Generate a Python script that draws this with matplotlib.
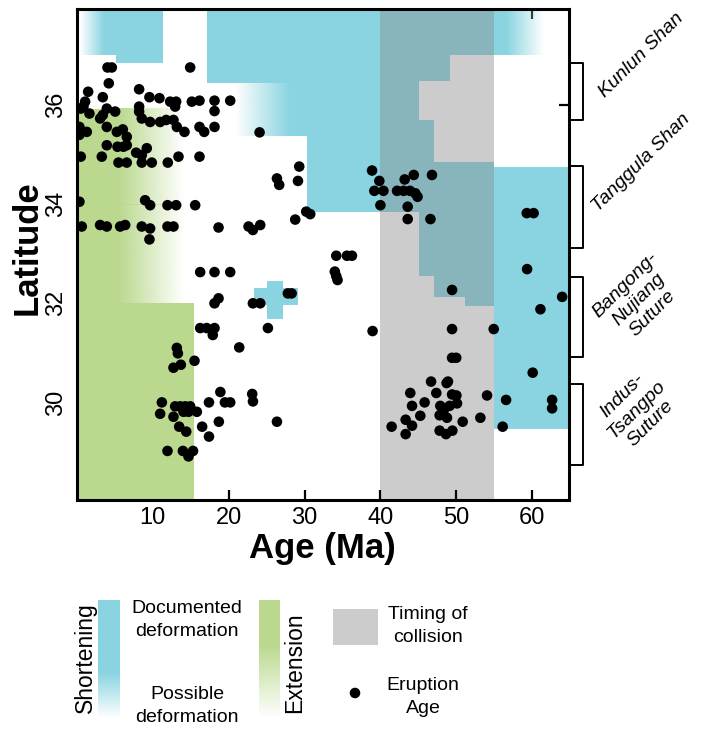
import numpy as np
import matplotlib
matplotlib.use("Agg")
import matplotlib.pyplot as plt
from matplotlib.patches import Rectangle
from matplotlib.colors import to_rgb
import matplotlib.transforms as mtransforms

plt.rcParams['font.family'] = ['Liberation Sans', 'DejaVu Sans']

# ---------------- data ----------------
eruption_age = [
    4.02, 4.59, 14.92, 4.19, 1.47, 8.19, 3.40, 9.55, 10.87, 1.07, 0.85,
    12.28, 13.07, 12.94, 15.14, 16.15, 18.13, 20.20, 0.5, 1.64, 3.93, 5.03,
    8.19, 8.19, 18.13, 3.40, 3.05, 8.54, 9.64, 10.96, 11.76, 12.72, 13.16, 14.17,
    0.32, 1.29, 0.32, 3.93, 5.25, 6.04, 6.56, 16.15, 16.77, 18.13, 24.07,
    3.93, 5.34, 6.13, 6.56, 7.80, 8.54, 9.20, 0.5, 3.27, 5.47, 6.56, 8.54, 9.86,
    11.97, 13.38, 16.15, 29.30, 26.36, 26.66, 29.13, 0.32, 8.98, 9.64,
    11.93, 13.07, 15.58, 28.77, 30.22, 30.75,
    0.63, 3.05, 3.93, 5.69, 6.35, 8.54, 9.64, 11.93, 12.72, 9.55, 18.66,
    22.62, 23.19, 24.16,
    38.9, 39.86, 39.2, 40.4, 40.0, 43.2, 44.4, 42.2, 43.06, 43.9, 44.6, 44.9,
    43.6, 43.6, 46.8, 46.6, 59.3, 60.2,
    34.18, 35.59, 36.25, 33.99, 34.18, 34.35, 49.45, 59.34, 63.96, 61.1,
    38.97, 49.45, 54.94, 49.45, 50.0, 60.08, 46.68, 48.73, 48.91,
    43.94, 47.37, 49.45, 50.02, 54.06, 56.57, 62.64, 62.64,
    45.83, 44.17, 47.9, 49.13, 50.1, 45.26, 47.81, 48.78, 48.34,
    43.33, 44.17, 41.48, 43.33, 50.85, 53.18, 47.81, 48.65, 49.49, 56.12,
    16.24, 18.13, 20.2, 18.13, 18.66, 23.19, 24.16, 27.8, 28.3,
    16.24, 17.1, 18.13, 17.9, 25.17, 21.39, 13.16, 13.3, 12.72, 13.69, 15.49,
    11.19, 10.96, 12.72, 12.94, 13.6, 14.26, 14.92, 14.04, 14.7, 15.8,
    13.47, 14.4, 16.5, 17.4, 17.4, 18.9, 19.5, 20.2, 18.7, 23.1, 23.2, 26.36,
    11.93, 13.96, 14.7, 15.3,
]
eruption_lat = [
    36.76, 36.76, 36.76, 36.44, 36.27, 36.32, 36.16, 36.16, 36.14, 36.07, 35.97,
    36.07, 36.07, 35.97, 36.07, 36.09, 36.09, 36.09, 35.93, 35.83, 35.93, 35.87,
    35.97, 35.87, 35.88, 35.80, 35.73, 35.73, 35.66, 35.66, 35.70, 35.70, 35.56, 35.46,
    35.56, 35.46, 35.40, 35.56, 35.46, 35.51, 35.36, 35.56, 35.46, 35.56, 35.45,
    35.19, 35.16, 35.16, 35.19, 35.04, 34.99, 35.13, 34.96, 34.96, 34.84, 34.84, 34.84, 34.84,
    34.84, 34.96, 34.96, 34.76, 34.52, 34.39, 34.47, 34.05, 34.08, 33.98,
    33.98, 33.98, 33.98, 33.69, 33.85, 33.80,
    33.55, 33.58, 33.55, 33.55, 33.58, 33.55, 33.51, 33.55, 33.55, 33.29, 33.53,
    33.55, 33.48, 33.58,
    34.68, 34.47, 34.27, 34.27, 33.98, 34.50, 34.59, 34.27, 34.27, 34.27, 34.22, 34.15,
    33.95, 33.70, 34.59, 33.70, 33.82, 33.82,
    32.96, 32.96, 32.96, 32.64, 32.55, 32.47, 32.27, 32.69, 32.13, 31.88,
    31.44, 31.48, 31.48, 30.90, 30.90, 30.60, 30.42, 30.39, 30.42,
    30.19, 30.19, 30.16, 30.14, 30.14, 30.05, 30.05, 29.88,
    30.00, 29.93, 29.93, 29.93, 29.98, 29.73, 29.74, 29.69, 29.84,
    29.65, 29.53, 29.51, 29.36, 29.61, 29.69, 29.43, 29.36, 29.43, 29.51,
    32.63, 32.63, 32.63, 32.00, 32.10, 32.00, 32.00, 32.20, 32.20,
    31.50, 31.50, 31.50, 31.36, 31.50, 31.11, 31.10, 30.99, 30.70, 30.76, 30.84,
    30.00, 29.77, 29.71, 29.92, 29.92, 29.92, 29.92, 29.81, 29.81, 29.81,
    29.51, 29.41, 29.51, 29.31, 30.00, 30.21, 30.00, 30.00, 29.61, 30.17, 30.02, 29.61,
    29.02, 29.02, 28.91, 29.02,
]

collision_window = (40.0, 55.0)

# documented shortening: (age_start, age_end, lat_min, lat_max)
shortening_rects = [
    (3.5, 5.1, 37.01, 38.2), (5.1, 11.3, 36.86, 38.2),
    (17.1, 40.0, 36.44, 38.2), (28.0, 30.3, 35.37, 36.44), (30.3, 40.0, 33.84, 36.44),
    (40.0, 55.0, 37.01, 38.2), (40.0, 49.2, 36.48, 37.01), (40.0, 45.1, 35.70, 36.48),
    (40.0, 47.1, 34.85, 35.70), (40.0, 55.0, 33.84, 34.85), (45.1, 55.0, 32.55, 33.84),
    (47.1, 55.0, 32.13, 32.55), (51.1, 55.0, 31.95, 32.13),
    (55.0, 66.0, 29.46, 34.75), (55.0, 56.5, 37.01, 38.2),
    (23.3, 29.1, 31.97, 32.31), (25.1, 27.1, 31.68, 32.45),
]
# possible shortening (fading): (age_a, age_b, lat_min, lat_max, alpha_a, alpha_b)
shortening_fades = [
    (0.4, 3.5, 37.01, 38.2, 0.0, 1.0),
    (20.8, 28.0, 35.37, 36.44, 0.0, 1.0),
    (56.5, 61.5, 37.01, 38.2, 1.0, 0.0),
]
extension_rects = [
    (0.0, 15.4, 27.5, 32.0), (0.0, 5.5, 32.0, 33.98), (0.0, 5.5, 33.98, 35.92),
]
extension_fades = [
    (5.5, 14.0, 32.0, 33.98, 1.0, 0.0), (5.5, 14.0, 33.98, 35.92, 1.0, 0.0),
]

region_names = ["Kunlun Shan", "Tanggula Shan", "Bangong-\nNujiang\nSuture", "Indus-\nTsangpo\nSuture"]
region_lat_min = [35.70, 33.12, 30.92, 28.74]
region_lat_max = [36.85, 34.77, 32.53, 30.37]
region_label_lat = [37.01, 34.83, 32.08, 29.86]
region_label_x = [1.1475, 1.1475, 1.143, 1.138]

x_ticks = [10, 20, 30, 40, 50, 60]
y_ticks = [30, 32, 34, 36]

# ---------------- style ----------------
C_SHORT = '#89D4E0'
C_OVER = '#88B4BC'
C_GREY = '#CCCCCC'
C_EXT = '#BAD98E'

W, H = 702, 732
fig = plt.figure(figsize=(W / 100, H / 100), dpi=100)
ax = fig.add_axes([77 / W, 1 - 500 / H, 491.5 / W, 491 / H], zorder=2)


def fade(axis, x0, x1, y0, y1, a0, a1, color, z):
    r, g, b = to_rgb(color)
    n = 256
    img = np.zeros((1, n, 4))
    img[0, :, 0], img[0, :, 1], img[0, :, 2] = r, g, b
    img[0, :, 3] = np.linspace(a0, a1, n)
    axis.imshow(img, extent=(x0, x1, y0, y1), origin='lower', aspect='auto',
                interpolation='bilinear', zorder=z)


# collision window
c0, c1 = collision_window
ax.add_patch(Rectangle((c0, 27), c1 - c0, 12, fc=C_GREY, ec='none', lw=0, zorder=1))

# shortening, split at the collision window
for a0, a1, l0, l1 in shortening_rects:
    pieces = []
    if a0 < c0:
        pieces.append((a0, min(a1, c0), C_SHORT))
    if a1 > c0 and a0 < c1:
        pieces.append((max(a0, c0), min(a1, c1), C_OVER))
    if a1 > c1:
        pieces.append((max(a0, c1), a1, C_SHORT))
    for p0, p1, col in pieces:
        ax.add_patch(Rectangle((p0, l0), p1 - p0, l1 - l0, fc=col, ec='none', lw=0, zorder=2))
for a0, a1, l0, l1, al0, al1 in shortening_fades:
    fade(ax, a0, a1, l0, l1, al0, al1, C_SHORT, 2)

for a0, a1, l0, l1 in extension_rects:
    ax.add_patch(Rectangle((a0, l0), a1 - a0, l1 - l0, fc=C_EXT, ec='none', lw=0, zorder=2))
for a0, a1, l0, l1, al0, al1 in extension_fades:
    fade(ax, a0, a1, l0, l1, al0, al1, C_EXT, 2)

ax.scatter(eruption_age, eruption_lat, s=58, c='black', edgecolors='none', zorder=4)

ax.set_xlim(0, 64.8)
ax.set_ylim(28.03, 37.94)
ax.set_xticks(x_ticks)
ax.set_yticks(y_ticks)
ax.tick_params(direction='in', length=7.5, width=1.6, top=True, right=True,
               labelsize=17, pad=5)
ax.tick_params(axis='y', labelrotation=90, pad=7)
for lb in ax.get_yticklabels():
    lb.set_va('center')
for sp in ax.spines.values():
    sp.set_linewidth(2.2)

ax.set_xlabel('Age (Ma)', fontsize=25, fontweight='bold', labelpad=2)
ax.set_ylabel('Latitude', fontsize=25, fontweight='bold')
ax.yaxis.set_label_coords(-0.068, 0.513)

# region brackets on the right
trans = mtransforms.blended_transform_factory(ax.transAxes, ax.transData)
bx = 1.0295
for name, lo, hi, ly, lx in zip(region_names, region_lat_min, region_lat_max,
                               region_label_lat, region_label_x):
    ax.plot([1.0, bx, bx, 1.0], [hi, hi, lo, lo], color='black', lw=1.4,
            transform=trans, clip_on=False, zorder=5)
    ax.text(lx, ly, name, transform=trans, rotation=45, fontsize=14,
            style='italic', ha='center', va='center', multialignment='center',
            linespacing=1.2, rotation_mode='anchor')

# ---------------- legend (figure pixel space) ----------------
lax = fig.add_axes([0, 0, 1, 1], zorder=1)
lax.axis('off')
lax.patch.set_alpha(0)

n = 200
ys = np.linspace(718, 600, n)
for color, x0, x1, y_full in [(C_SHORT, 98, 120, 673), (C_EXT, 259, 280, 645)]:
    r, g, b = to_rgb(color)
    img = np.zeros((n, 1, 4))
    img[:, 0, :3] = (r, g, b)
    img[:, 0, 3] = np.clip((718 - ys) / (718 - y_full), 0, 1)
    lax.imshow(img, extent=(x0, x1, 718, 600), origin='lower', aspect='auto',
               interpolation='bilinear')
lax.set_xlim(0, W)
lax.set_ylim(H, 0)

lax.add_patch(Rectangle((333, 609), 45, 36, fc=C_GREY, ec='none'))
lax.scatter([355], [693], s=58, c='black', edgecolors='none')

lax.text(85, 658, 'Shortening', rotation=90, fontsize=16.5, ha='center', va='center')
lax.text(295, 663, 'Extension', rotation=90, fontsize=16.5, ha='center', va='center')
lax.text(187, 620, 'Documented\ndeformation', fontsize=14, ha='center', va='center', linespacing=1.5)
lax.text(187, 706, 'Possible\ndeformation', fontsize=14, ha='center', va='center', linespacing=1.5)
lax.text(428, 626, 'Timing of\ncollision', fontsize=14, ha='center', va='center', linespacing=1.5)
lax.text(423, 697, 'Eruption\nAge', fontsize=14, ha='center', va='center', linespacing=1.5)

fig.savefig('out.png', dpi=100)
